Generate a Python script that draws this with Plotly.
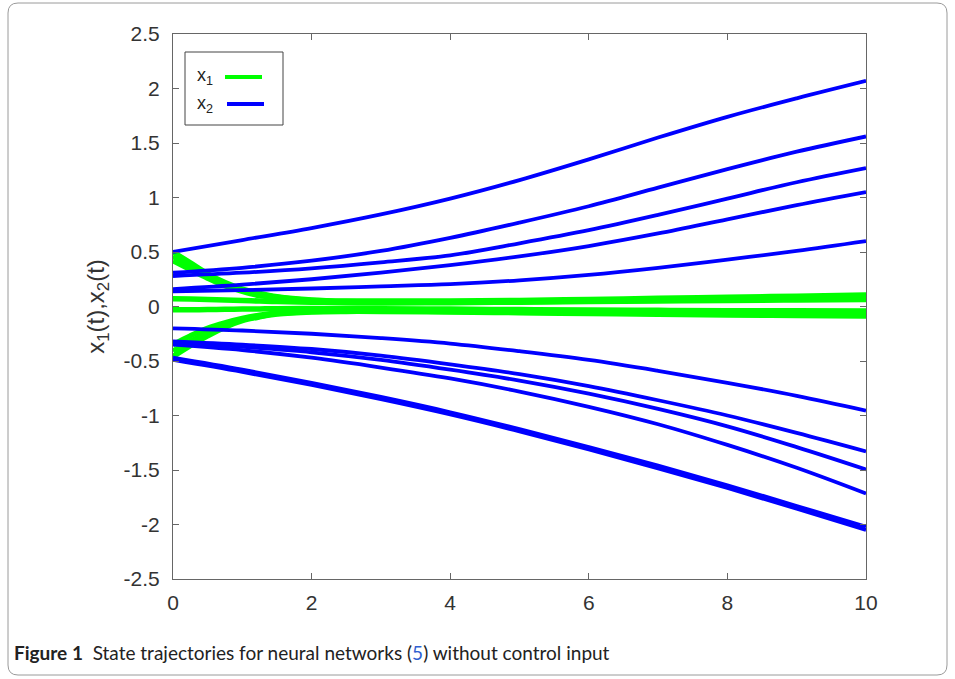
import plotly.graph_objects as go

# ---------------- data ----------------
t_blue = [0, 1, 2, 3, 4, 5, 6, 7, 8, 9, 10]
x2_series = [
    [0.50, 0.61, 0.72, 0.845, 0.99, 1.16, 1.35, 1.55, 1.74, 1.91, 2.07],
    [0.31, 0.355, 0.42, 0.51, 0.63, 0.77, 0.92, 1.09, 1.26, 1.42, 1.56],
    [0.28, 0.31, 0.35, 0.405, 0.47, 0.58, 0.70, 0.84, 0.99, 1.14, 1.27],
    [0.16, 0.20, 0.25, 0.31, 0.38, 0.46, 0.555, 0.67, 0.80, 0.93, 1.05],
    [0.14, 0.15, 0.165, 0.185, 0.205, 0.24, 0.29, 0.355, 0.43, 0.51, 0.60],
    [-0.20, -0.22, -0.25, -0.29, -0.34, -0.41, -0.49, -0.59, -0.70, -0.82, -0.955],
    [-0.32, -0.35, -0.39, -0.45, -0.53, -0.62, -0.73, -0.86, -1.00, -1.16, -1.33],
    [-0.33, -0.37, -0.42, -0.49, -0.58, -0.68, -0.80, -0.94, -1.10, -1.29, -1.495],
    [-0.35, -0.40, -0.47, -0.56, -0.66, -0.78, -0.92, -1.08, -1.27, -1.48, -1.716],
    [-0.47, -0.58, -0.70, -0.83, -0.97, -1.125, -1.29, -1.46, -1.64, -1.83, -2.02],
    [-0.49, -0.60, -0.72, -0.85, -0.99, -1.145, -1.31, -1.485, -1.665, -1.855, -2.05],
]

t_green = [0, 0.25, 0.5, 0.75, 1, 1.25, 1.5, 2, 2.5, 3, 4, 5, 6, 7, 8, 9, 10]
x1_series = [
    [0.50, 0.40, 0.30, 0.22, 0.16, 0.12, 0.09, 0.06, 0.05, 0.05, 0.05, 0.055, 0.065, 0.075, 0.085, 0.095, 0.105],
    [0.46, 0.37, 0.28, 0.21, 0.15, 0.11, 0.085, 0.055, 0.045, 0.04, 0.04, 0.045, 0.05, 0.057, 0.064, 0.07, 0.077],
    [0.42, 0.34, 0.26, 0.19, 0.14, 0.10, 0.08, 0.05, 0.04, 0.035, 0.035, 0.04, 0.045, 0.05, 0.055, 0.06, 0.065],
    [0.07, 0.068, 0.065, 0.06, 0.055, 0.05, 0.045, 0.04, 0.035, 0.035, 0.04, 0.047, 0.055, 0.063, 0.072, 0.08, 0.09],
    [-0.03, -0.03, -0.028, -0.026, -0.024, -0.022, -0.02, -0.018, -0.018, -0.02, -0.024, -0.028, -0.032, -0.035, -0.038, -0.04, -0.042],
    [-0.35, -0.27, -0.20, -0.15, -0.11, -0.08, -0.06, -0.04, -0.035, -0.035, -0.04, -0.045, -0.05, -0.055, -0.06, -0.065, -0.07],
    [-0.41, -0.32, -0.24, -0.17, -0.12, -0.09, -0.065, -0.045, -0.04, -0.04, -0.046, -0.052, -0.058, -0.064, -0.07, -0.075, -0.08],
    [-0.46, -0.36, -0.27, -0.19, -0.13, -0.095, -0.07, -0.05, -0.045, -0.045, -0.05, -0.057, -0.064, -0.071, -0.077, -0.082, -0.087],
]

x_tickvals = [0, 2, 4, 6, 8, 10]
x_ticktext = ["0", "2", "4", "6", "8", "10"]
y_tickvals = [-2.5, -2, -1.5, -1, -0.5, 0, 0.5, 1, 1.5, 2, 2.5]
y_ticktext = ["-2.5", "-2", "-1.5", "-1", "-0.5", "0", "0.5", "1", "1.5", "2", "2.5"]

legend_labels = ["x<sub>1</sub>", "x<sub>2</sub>"]
y_title = "x<sub>1</sub>(t),x<sub>2</sub>(t)"
caption = ("<b>Figure 1</b>  State trajectories for neural networks "
           "(<span style='color:#2f5fd0'>5</span>) without control input")

GREEN = "#00ff00"
BLUE = "#0000ff"

# ---------------- figure ----------------
W, H = 955, 679
L, R, T, B = 173, 89, 34, 100
pw, ph = W - L - R, H - T - B


def px(x):
    return (x - L) / pw


def py(y):
    return (H - B - y) / ph


fig = go.Figure()
for ys in x1_series:
    fig.add_trace(go.Scatter(x=t_green, y=ys, mode="lines", name="x1",
                             line=dict(color=GREEN, width=5.5, shape="spline"),
                             showlegend=False, hoverinfo="skip"))
for ys in x2_series:
    fig.add_trace(go.Scatter(x=t_blue, y=ys, mode="lines", name="x2",
                             line=dict(color=BLUE, width=3.8, shape="spline"),
                             showlegend=False, hoverinfo="skip"))

tick_font = dict(family="Liberation Sans", size=21, color="#333333")
axis_common = dict(showline=True, linecolor="#666666", linewidth=1, mirror="ticks",
                   ticks="inside", ticklen=6, tickcolor="#666666", showgrid=False,
                   zeroline=False, tickfont=tick_font)

fig.update_xaxes(range=[0, 10], tickvals=x_tickvals, ticktext=x_ticktext,
                 ticklabelstandoff=5, **axis_common)
fig.update_yaxes(range=[-2.5, 2.5], tickvals=y_tickvals, ticktext=y_ticktext,
                 ticklabelstandoff=8,
                 title=dict(text=y_title, font=dict(family="Liberation Sans", size=24, color="#333333"),
                            standoff=12),
                 **axis_common)

shapes = []
# outer rounded frame
x0, x1, y0, y1, r = 8, 947, 3, 675, 10
rx, ry = r / pw, r / ph
X0, X1, Y0, Y1 = px(x0), px(x1), py(y1), py(y0)
path = (f"M {X0+rx},{Y1} L {X1-rx},{Y1} Q {X1},{Y1} {X1},{Y1-ry} "
        f"L {X1},{Y0+ry} Q {X1},{Y0} {X1-rx},{Y0} L {X0+rx},{Y0} Q {X0},{Y0} {X0},{Y0+ry} "
        f"L {X0},{Y1-ry} Q {X0},{Y1} {X0+rx},{Y1} Z")
shapes.append(dict(type="path", path=path, xref="paper", yref="paper",
                   line=dict(color="#9a9a9a", width=1)))
# legend box
shapes.append(dict(type="rect", xref="paper", yref="paper",
                   x0=px(185), x1=px(283), y0=py(125), y1=py(52),
                   line=dict(color="#444444", width=1), fillcolor="white"))
# legend samples
shapes.append(dict(type="line", xref="paper", yref="paper",
                   x0=px(225), x1=px(262), y0=py(77), y1=py(77),
                   line=dict(color=GREEN, width=4)))
shapes.append(dict(type="line", xref="paper", yref="paper",
                   x0=px(227), x1=px(264), y0=py(104), y1=py(104),
                   line=dict(color=BLUE, width=4)))
fig.update_layout(shapes=shapes)

leg_font = dict(family="Liberation Sans", size=18, color="#222222")
annotations = [
    dict(text=legend_labels[0], x=px(195), y=py(77), xref="paper", yref="paper",
         xanchor="left", yanchor="middle", showarrow=False, font=leg_font),
    dict(text=legend_labels[1], x=px(195), y=py(104), xref="paper", yref="paper",
         xanchor="left", yanchor="middle", showarrow=False, font=leg_font),
    dict(text=caption, x=px(12), y=py(652), xref="paper", yref="paper",
         xanchor="left", yanchor="middle", showarrow=False,
         font=dict(family="Lato", size=19, color="#222222")),
]
fig.update_layout(annotations=annotations)

fig.update_layout(width=W, height=H, margin=dict(l=L, r=R, t=T, b=B),
                  paper_bgcolor="white", plot_bgcolor="white", showlegend=False)

fig.write_html("out.html", config={"displayModeBar": False},
               post_script="document.body.style.margin='0px';")
